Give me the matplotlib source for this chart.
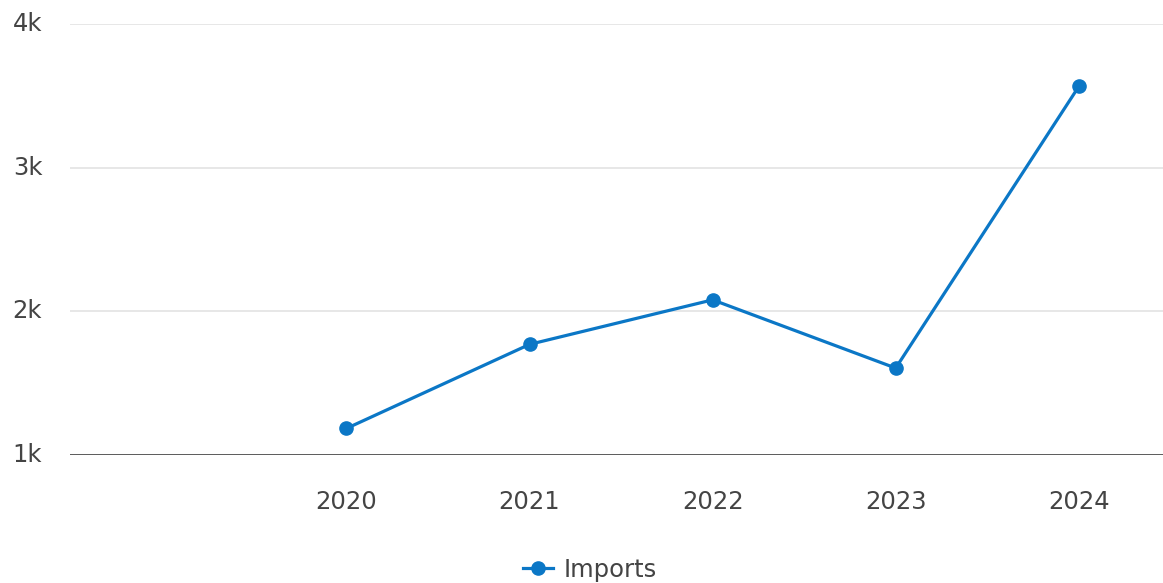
import matplotlib
matplotlib.use("Agg")
import matplotlib.pyplot as plt
from matplotlib.ticker import FuncFormatter

years = [2020, 2021, 2022, 2023, 2024]
imports = [1185, 1770, 2080, 1605, 3565]
y_ticks = [1000, 2000, 3000, 4000]

line_color = "#0b77c6"
text_color = "#444444"

fig = plt.figure(figsize=(11.63, 5.83), dpi=100)
ax = fig.add_axes([70 / 1163, 1 - 455 / 583, 1 - 70 / 1163, 431 / 583])

ax.plot(years, imports, color=line_color, lw=2.3, marker="o", ms=9.5,
        label="Imports", zorder=3)

ax.set_xlim(2018.49, 2024.46)
ax.set_ylim(1000, 4000)
ax.set_xticks(years)
ax.set_yticks(y_ticks)
ax.yaxis.set_major_formatter(FuncFormatter(lambda v, p: f"{int(v / 1000)}k"))

ax.grid(axis="y", color="#e3e3e3", lw=1.2)
ax.axhline(1000, color="#333333", lw=1.8, zorder=2)
for s in ax.spines.values():
    s.set_visible(False)
ax.tick_params(axis="both", length=0, labelsize=17.5, labelcolor=text_color)
ax.tick_params(axis="x", pad=25)
ax.tick_params(axis="y", pad=20)
for lbl in ax.get_yticklabels():
    lbl.set_verticalalignment("center")

fig.legend(loc="center", bbox_to_anchor=(590 / 1163, 1 - 570 / 583),
           frameon=False, fontsize=17.5, labelcolor=text_color,
           handlelength=1.25, handletextpad=0.45, borderpad=0)

fig.savefig("out.png", dpi=100)
